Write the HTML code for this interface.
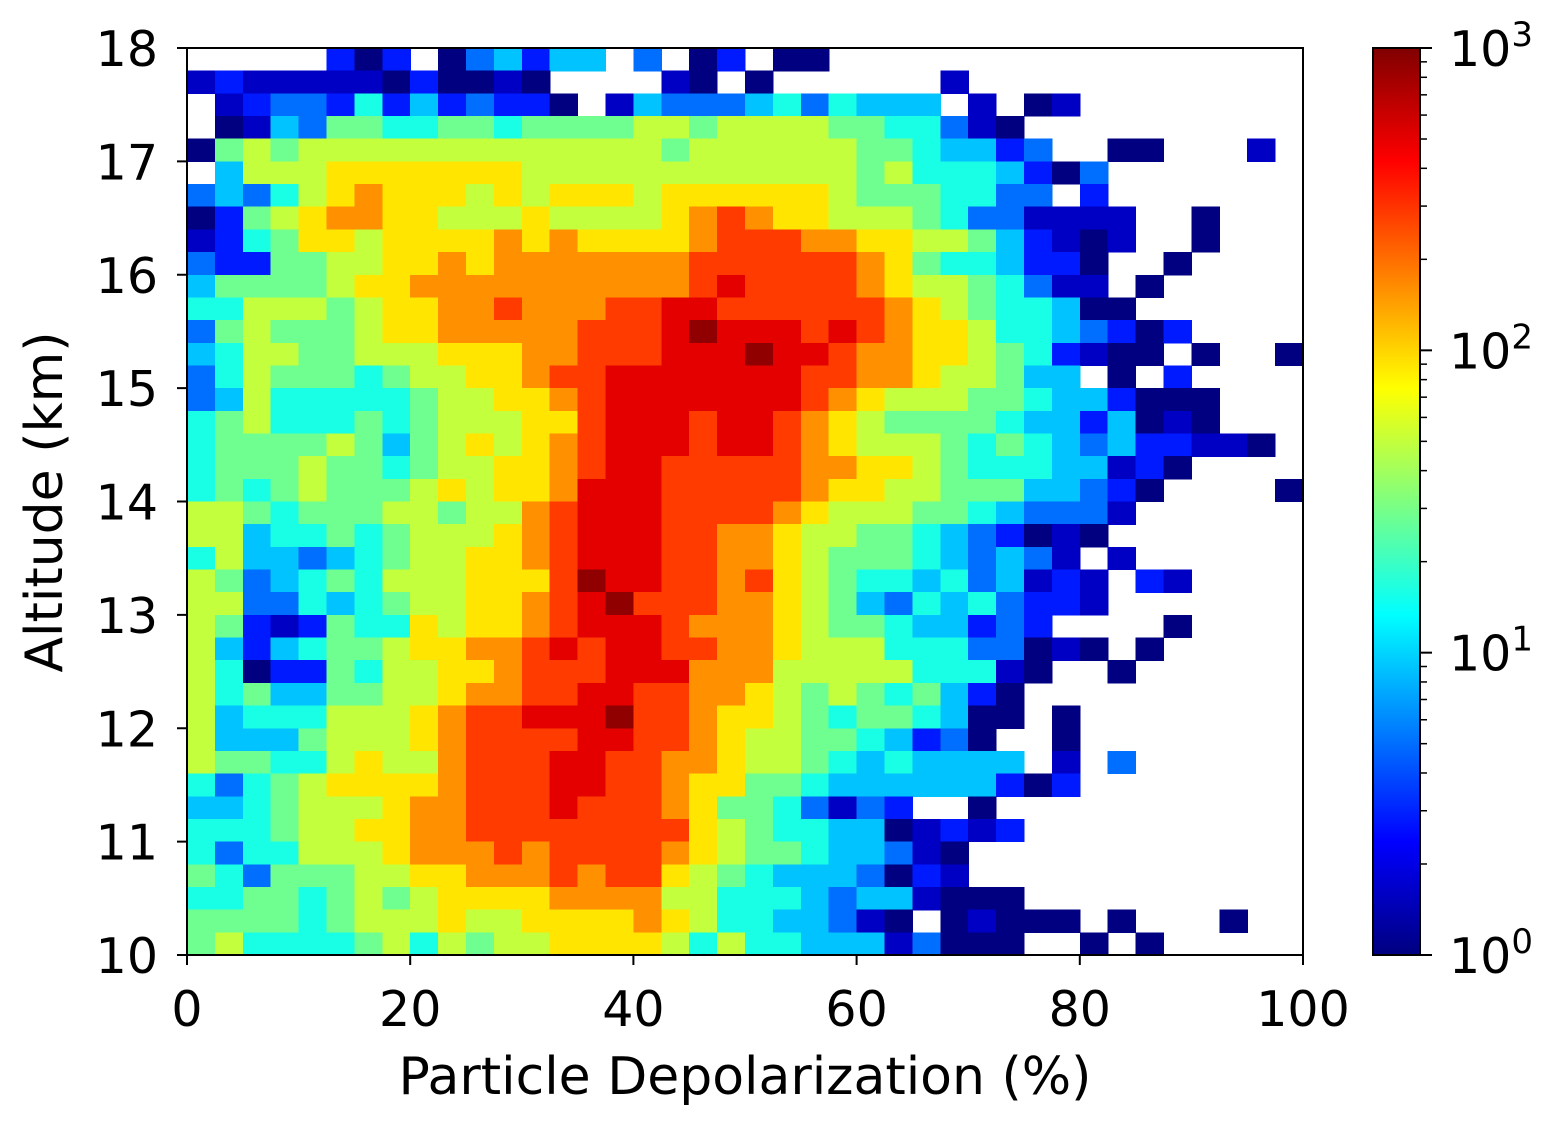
<!DOCTYPE html>
<html>
<head>
<meta charset="utf-8">
<style>
  html,body{margin:0;padding:0;background:#fff;}
  svg{display:block;}
  text{font-family:"DejaVu Sans","Liberation Sans",sans-serif;fill:#000;}
</style>
</head>
<body>
<svg id="chart" width="1564" height="1123" viewBox="0 0 1564 1123" xmlns="http://www.w3.org/2000/svg">
  <defs>
    <linearGradient id="jet" x1="0" y1="1" x2="0" y2="0">
      <stop offset="0" stop-color="#000080"/>
      <stop offset="0.125" stop-color="#0000ff"/>
      <stop offset="0.375" stop-color="#00ffff"/>
      <stop offset="0.625" stop-color="#ffff00"/>
      <stop offset="0.875" stop-color="#ff0000"/>
      <stop offset="1" stop-color="#800000"/>
    </linearGradient>
  </defs>
  <g id="cells" shape-rendering="crispEdges"></g>
  <rect x="187" y="48" width="1116" height="907" fill="none" stroke="#000" stroke-width="2"/>
  <g id="xaxis"></g>
  <g id="yaxis"></g>
  <text x="745" y="1094" font-size="52" text-anchor="middle">Particle Depolarization (%)</text>
  <text x="0" y="0" font-size="52" text-anchor="middle" transform="translate(62,502) rotate(-90)">Altitude (km)</text>
  <g>
    <rect x="1373" y="48" width="47" height="907" fill="url(#jet)"/>
    <rect x="1373" y="48" width="47" height="907" fill="none" stroke="#000" stroke-width="2"/>
    <g id="cbticks"></g>
  </g>
</svg>
<script>
// Counts per bin, encoded as quarter-decade codes: count = 10^((code-0.2)/4); '.' = empty bin.
// Rows from top (17.8-18 km) to bottom (10-10.2 km); 40 columns from 0% to 100%.
const countCodes = [
"..... 202.0 34244 .3.02 .00.. ..... ..... .....",
"12111 11020 010.. ..10. 0.... ..1.. ..... .....",
".1233 25242 3220. 14333 45354 44.1. 01... .....",
".0143 66556 65666 67767 77766 55310 ..... .....",
"06767 77777 77777 77677 77776 65442 3..00 ...1.",
".4777 88888 88777 77777 77776 75554 203.. .....",
"34357 89888 78788 87888 88876 66553 3.2.. .....",
"02678 99887 77877 7789a 98877 76533 1111. .0...",
"12568 87888 89898 8889a aa998 87764 2101. .0...",
"32266 77889 89999 999aa aaaa9 86554 220.. 0....",
"46666 78899 99999 999ab aaaa9 87765 311.0 .....",
"55777 67889 9a999 aabba aaaaa 98765 5400. .....",
"36766 67889 9999a aabcb bbaba 98875 54320 2....",
"45776 67778 8899a aabbb cbba9 98876 52100 .0..0",
"35766 65677 889aa bbbbb bbaa9 98776 44.0. 2....",
"34755 55567 7889a bbbbb bba98 77766 54420 00...",
"56755 56567 7788a bbbab ba987 66665 44240 10...",
"56666 76467 8789a bbbab ba987 77656 54342 2110.",
"56667 66567 7889a bbaaa aa998 87655 54412 0....",
"56567 66678 7889b bbaaa aa988 77666 44320 ....0",
"77656 66776 779ab bbaaa a9877 76654 3331. .....",
"77455 65677 789ab bbaa9 98776 65432 010.. .....",
"57443 45677 889ab bbaa9 98766 65434 31.1. .....",
"76345 65777 888ac bbaa9 a8765 54534 121.2 1....",
"77335 45677 889ab caaa9 98764 35453 221.. .....",
"76212 65587 889ab bba99 98766 54423 2.... 0....",
"74245 66788 99aba bbaa9 98777 55533 010.0 .....",
"75022 65778 89aaa bbb99 97777 75551 0..0. .....",
"75644 66778 99aab baa99 87676 56420 ..... .....",
"74555 77789 aabbb caa98 87656 65400 .0... .....",
"74446 77789 aaaab baa98 77665 4230. .0... .....",
"76655 78779 aaabb aa998 77654 54444 .1.3. .....",
"53567 88889 aaabb aa988 66544 44442 02... .....",
"44567 77899 aaaba aa986 65313 2..0. ..... .....",
"55567 78899 aaaaa aaa87 65544 01212 ..... .....",
"53557 77899 9a9aa aa987 66544 310.. ..... .....",
"65366 67788 999a9 aa876 54443 021.. ..... .....",
"55665 67678 88899 99775 55434 41000 ..... .....",
"66665 67778 77888 89875 54431 0.010 00.0. ..0..",
"67555 56757 67788 88757 55444 13000 ..0.0 ....."
];
const xBinEdgesStart = 0, xBinStep = 2.5;     // depolarization bins (%)
const yTop = 18, yBinStep = 0.2;              // altitude bins (km)
const xTicks = [0, 20, 40, 60, 80, 100];
const yTicks = [10, 11, 12, 13, 14, 15, 16, 17, 18];
const cbMajor = [0, 1, 2, 3];                 // log10 exponents

const NS = "http://www.w3.org/2000/svg";
const PX0 = 187, PX1 = 1303, PY0 = 48, PY1 = 955;
function xs(v){ return PX0 + (v - 0) / 100 * (PX1 - PX0); }
function ys(a){ return PY1 - (a - 10) / 8 * (PY1 - PY0); }
function cbY(logv){ return PY1 - logv / 3 * (PY1 - PY0); }
function clip(v){ return Math.max(0, Math.min(1, v)); }
function jet(t){
  t = clip(t);
  const r = clip(1.5 - Math.abs(4*t - 3)), g = clip(1.5 - Math.abs(4*t - 2)), b = clip(1.5 - Math.abs(4*t - 1));
  return "rgb(" + Math.round(r*255) + "," + Math.round(g*255) + "," + Math.round(b*255) + ")";
}
function mk(tag, attrs){ const e = document.createElementNS(NS, tag); for (const k in attrs) e.setAttribute(k, attrs[k]); return e; }

const cells = document.getElementById("cells");
countCodes.forEach(function(rowStr, i){
  const chars = rowStr.replace(/\s/g, "");
  for (let j = 0; j < chars.length && j < 40; j++){
    const ch = chars[j];
    if (ch === ".") continue;
    const count = Math.max(1, Math.pow(10, (parseInt(ch, 16) - 0.2) / 4));
    const t = Math.log10(count) / 3;
    const x0 = xs(xBinEdgesStart + j * xBinStep), x1 = xs(xBinEdgesStart + (j + 1) * xBinStep);
    const y0 = ys(yTop - i * yBinStep), y1 = ys(yTop - (i + 1) * yBinStep);
    const r = mk("rect", {x: x0.toFixed(2), y: y0.toFixed(2), width: (x1 - x0 + 0.6).toFixed(2), height: (y1 - y0 + 0.6).toFixed(2), fill: jet(t)});
    
    
    cells.appendChild(r);
  }
});

const xaxis = document.getElementById("xaxis");
xTicks.forEach(function(v){
  const x = xs(v);
  const tk = mk("line", {x1: x, x2: x, y1: PY1, y2: PY1 + 10, stroke: "#000", "stroke-width": 2});
  
  
  xaxis.appendChild(tk);
  const lb = mk("text", {x: x, y: 1026, "font-size": 49, "text-anchor": "middle"});
  lb.textContent = String(v);
  
  
  xaxis.appendChild(lb);
});

const yaxis = document.getElementById("yaxis");
yTicks.forEach(function(v){
  const y = ys(v);
  const tk = mk("line", {x1: PX0 - 10, x2: PX0, y1: y, y2: y, stroke: "#000", "stroke-width": 2});
  
  
  yaxis.appendChild(tk);
  const lb = mk("text", {x: 158, y: y + 18, "font-size": 49, "text-anchor": "end"});
  lb.textContent = String(v);
  
  
  yaxis.appendChild(lb);
});

const cbt = document.getElementById("cbticks");
cbMajor.forEach(function(p){
  const y = cbY(p);
  const tk = mk("line", {x1: 1420, x2: 1432, y1: y, y2: y, stroke: "#000", "stroke-width": 2});
  
  
  cbt.appendChild(tk);
  const lb = mk("text", {x: 1449, y: y + 18, "font-size": 49});
  
  
  lb.textContent = "10";
  const sup = mk("tspan", {dy: -20, "font-size": 34});
  sup.textContent = String(p);
  lb.appendChild(sup);
  cbt.appendChild(lb);
  if (p < 3){
    for (let m = 2; m <= 9; m++){
      const ym = cbY(p + Math.log10(m));
      const mt = mk("line", {x1: 1420, x2: 1427, y1: ym, y2: ym, stroke: "#000", "stroke-width": 1.5});
      
      
      cbt.appendChild(mt);
    }
  }
});
</script>
</body>
</html>
